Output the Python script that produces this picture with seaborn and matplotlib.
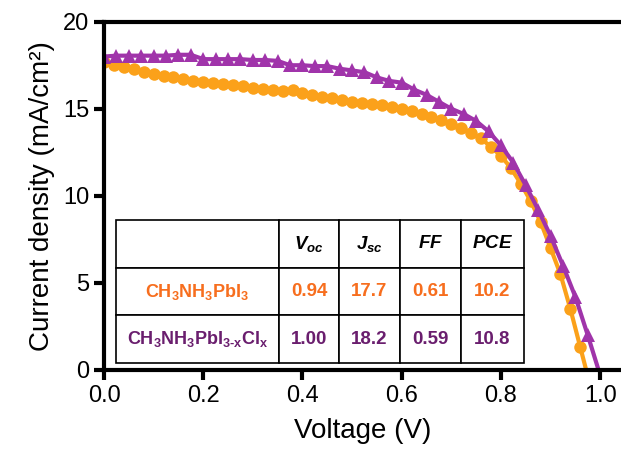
import matplotlib
matplotlib.use("Agg")
import matplotlib.pyplot as plt
import numpy as np
import pandas as pd
import seaborn as sns

# J-V data
v_pbi3 = [0.00, 0.02, 0.04, 0.06, 0.08, 0.10, 0.12, 0.14, 0.16, 0.18,
          0.20, 0.22, 0.24, 0.26, 0.28, 0.30, 0.32, 0.34, 0.36, 0.38,
          0.40, 0.42, 0.44, 0.46, 0.48, 0.50, 0.52, 0.54, 0.56, 0.58,
          0.60, 0.62, 0.64, 0.66, 0.68, 0.70, 0.72, 0.74, 0.76, 0.78,
          0.80, 0.82, 0.84, 0.86, 0.88, 0.90, 0.92, 0.94, 0.96, 0.98]
j_pbi3 = [17.7, 17.5, 17.4, 17.3, 17.1, 17.0, 16.9, 16.8, 16.7, 16.6,
          16.55, 16.5, 16.4, 16.35, 16.3, 16.2, 16.15, 16.05, 16.0, 16.1,
          15.9, 15.8, 15.7, 15.6, 15.5, 15.4, 15.35, 15.3, 15.2, 15.1,
          15.0, 14.85, 14.7, 14.5, 14.35, 14.15, 13.9, 13.6, 13.3, 12.8,
          12.3, 11.6, 10.7, 9.7, 8.5, 7.0, 5.5, 3.5, 1.3, -0.9]

v_cl = [0.000, 0.025, 0.050, 0.075, 0.100, 0.125, 0.150, 0.175, 0.200, 0.225,
        0.250, 0.275, 0.300, 0.325, 0.350, 0.375, 0.400, 0.425, 0.450, 0.475,
        0.500, 0.525, 0.550, 0.575, 0.600, 0.625, 0.650, 0.675, 0.700, 0.725,
        0.750, 0.775, 0.800, 0.825, 0.850, 0.875, 0.900, 0.925, 0.950, 0.975,
        1.000]
j_cl = [18.0, 18.05, 18.05, 18.05, 18.05, 18.05, 18.1, 18.1, 17.85, 17.85,
        17.85, 17.85, 17.8, 17.8, 17.75, 17.5, 17.5, 17.45, 17.45, 17.3,
        17.2, 17.1, 16.8, 16.6, 16.5, 16.1, 15.8, 15.4, 15.0, 14.7,
        14.3, 13.7, 12.9, 11.9, 10.6, 9.2, 7.7, 6.0, 4.2, 2.0,
        -0.3]

# table values
materials = [r"$\mathrm{CH_3NH_3PbI_3}$", r"$\mathrm{CH_3NH_3PbI_{3\text{-}x}Cl_x}$"]
headers = ["", r"$V_{oc}$", r"$J_{sc}$", r"$FF$", r"$PCE$"]
voc = ["0.94", "1.00"]
jsc = ["17.7", "18.2"]
ff = ["0.61", "0.59"]
pce = ["10.2", "10.8"]

orange = "#FBA11A"
purple = "#A034AA"
orange_txt = "#F76E1E"
purple_txt = "#6A1E6E"

sns.set_style("ticks")
plt.rcParams["font.family"] = ["Liberation Sans", "DejaVu Sans"]
plt.rcParams["mathtext.fontset"] = "custom"
plt.rcParams["mathtext.rm"] = "Liberation Sans:bold"
plt.rcParams["mathtext.it"] = "Liberation Sans:italic:bold"
plt.rcParams["mathtext.bf"] = "Liberation Sans:bold"
plt.rcParams["text.color"] = "black"
plt.rcParams["axes.labelcolor"] = "black"

fig = plt.figure(figsize=(6.21, 4.57), dpi=100)
ax = fig.add_axes([0.1675, 0.1904, 0.8325, 0.7621])

df1 = pd.DataFrame({"V": v_pbi3, "J": j_pbi3})
df2 = pd.DataFrame({"V": v_cl, "J": j_cl})
sns.lineplot(data=df1, x="V", y="J", ax=ax, color=orange, lw=3, marker="o",
             markersize=9, markeredgewidth=0, sort=False)
sns.lineplot(data=df2, x="V", y="J", ax=ax, color=purple, lw=3, marker="^",
             markersize=10, markeredgewidth=0, sort=False)

ax.set_xlim(0, 1.042)
ax.set_ylim(0, 20)
ax.set_xticks([0.0, 0.2, 0.4, 0.6, 0.8, 1.0])
ax.set_xticklabels(["0.0", "0.2", "0.4", "0.6", "0.8", "1.0"])
ax.set_yticks([0, 5, 10, 15, 20])
ax.set_xlabel("Voltage (V)", fontsize=20, labelpad=8, color="black")
ax.set_ylabel("Current density (mA/cm²)", fontsize=20, labelpad=6, color="black")
ax.tick_params(axis="both", labelsize=17, width=3, length=7, direction="out",
               color="black", labelcolor="black")
for s in ["left", "bottom", "top"]:
    ax.spines[s].set_linewidth(3)
    ax.spines[s].set_color("black")
ax.spines["right"].set_visible(False)

cells = [headers]
for i in range(2):
    cells.append([materials[i], voc[i], jsc[i], ff[i], pce[i]])
tab = ax.table(cellText=cells, cellLoc="center",
               colWidths=[0.40, 0.147, 0.15, 0.15, 0.154],
               bbox=[0.0232, 0.020, 0.789, 0.4106])
tab.auto_set_font_size(False)
tab.set_fontsize(13.5)
for (r, c), cell in tab.get_celld().items():
    cell.set_linewidth(1.2)
    cell.set_edgecolor("black")
    t = cell.get_text()
    t.set_fontweight("bold")
    if r == 1:
        t.set_color(orange_txt)
    elif r == 2:
        t.set_color(purple_txt)
    if c == 0 and r > 0:
        t.set_fontsize(13)

fig.savefig("out.png", dpi=100)
